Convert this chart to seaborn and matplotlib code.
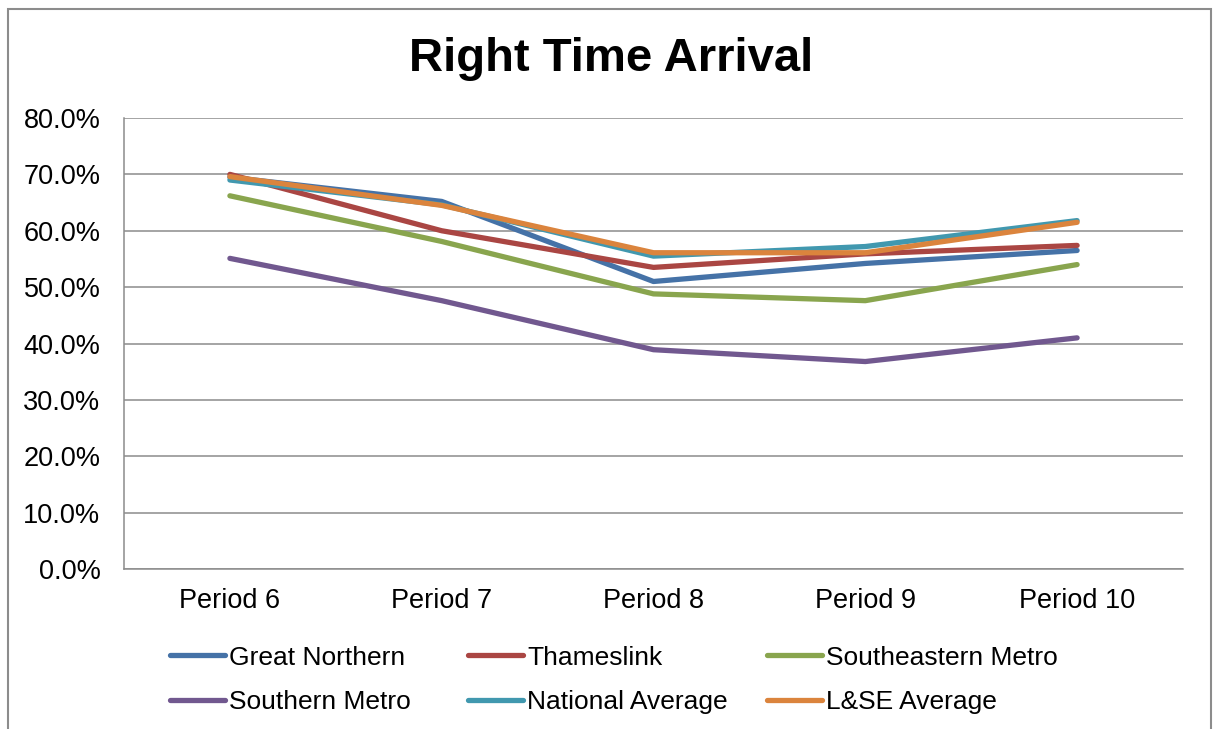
import matplotlib
matplotlib.use("Agg")
import matplotlib.pyplot as plt
import matplotlib.patches as mpatches
from matplotlib.ticker import FuncFormatter
import seaborn as sns
import pandas as pd

periods = ["Period 6", "Period 7", "Period 8", "Period 9", "Period 10"]
great_northern = [69.5, 65.2, 51.0, 54.2, 56.5]
thameslink = [70.0, 60.0, 53.5, 55.9, 57.4]
southeastern_metro = [66.2, 58.1, 48.8, 47.6, 54.0]
southern_metro = [55.1, 47.6, 38.9, 36.8, 41.0]
national_average = [69.0, 64.6, 55.5, 57.2, 61.8]
lse_average = [69.6, 64.5, 56.1, 56.1, 61.5]

series = {
    "Great Northern": great_northern,
    "Thameslink": thameslink,
    "Southeastern Metro": southeastern_metro,
    "Southern Metro": southern_metro,
    "National Average": national_average,
    "L&SE Average": lse_average,
}
colors = ["#4572A7", "#AA4643", "#89A54E", "#71588F", "#4198AF", "#DB843D"]

rows = []
for name, vals in series.items():
    for p, v in zip(periods, vals):
        rows.append({"Period": p, "Value": v, "Series": name})
df = pd.DataFrame(rows)

sns.set_theme(style="white")
plt.rcParams["font.family"] = ["Liberation Sans", "DejaVu Sans"]
plt.rcParams["text.color"] = "black"

fig = plt.figure(figsize=(12.13, 7.29), dpi=100)
ax = fig.add_axes([124 / 1213, 1 - 569 / 729, (1183 - 124) / 1213, (569 - 118) / 729])

sns.lineplot(data=df, x="Period", y="Value", hue="Series", palette=colors,
             linewidth=3.8, sort=False, ax=ax, legend=True)

ax.set_xlim(-0.5, 4.5)
ax.set_ylim(0, 80)
ax.set_yticks(range(0, 81, 10))
ax.yaxis.set_major_formatter(FuncFormatter(lambda v, _: f"{v:.1f}%"))
ax.grid(axis="y", color="#8C8C8C", linewidth=1.1)
ax.set_axisbelow(True)
ax.set_xlabel("")
ax.set_ylabel("")
for s in ["top", "right"]:
    ax.spines[s].set_visible(False)
for s in ["left", "bottom"]:
    ax.spines[s].set_color("#8C8C8C")
    ax.spines[s].set_linewidth(1.1)
ax.tick_params(axis="y", length=0, pad=17, labelsize=19.5, labelcolor="black")
ax.tick_params(axis="x", length=0, pad=14, labelsize=19.5, labelcolor="black")

handles, labels = ax.get_legend_handles_labels()
ax.get_legend().remove()
for h in handles:
    h.set_linewidth(3.8)
    h.set_solid_capstyle("round")

# Excel-style legend: three equal-width columns, entries filled row by row
col_x = [170, 468, 767]
for c in range(3):
    hs = [handles[c], handles[c + 3]]
    ls = [labels[c], labels[c + 3]]
    leg = fig.legend(hs, ls, loc="center left",
                     bbox_to_anchor=(col_x[c] / 1213, 1 - 680 / 729),
                     ncol=1, frameon=False, fontsize=19, handlelength=2.1,
                     handletextpad=0.15, labelspacing=0.78, borderpad=0,
                     borderaxespad=0)
    for t in leg.get_texts():
        t.set_color("black")

fig.text(611 / 1213, 1 - 59 / 729, "Right Time Arrival", ha="center", va="center",
         fontsize=34, fontweight="bold", color="black")

border = mpatches.Rectangle((8 / 1213, -0.02), (1211 - 8) / 1213, 1.02 - 9 / 729,
                            transform=fig.transFigure, fill=False,
                            edgecolor="#8C8C8C", linewidth=1.5)
fig.patches.append(border)

fig.savefig("out.png", dpi=100)
